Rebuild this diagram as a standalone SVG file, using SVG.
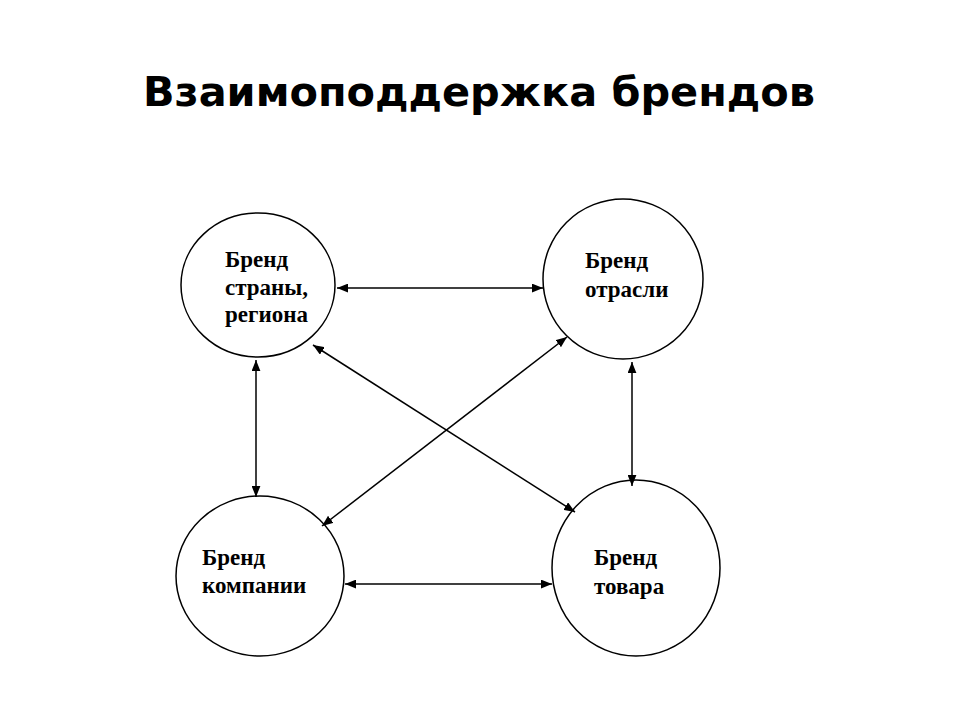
<svg xmlns="http://www.w3.org/2000/svg" width="960" height="720" viewBox="0 0 960 720">
<style>
.node{fill:#fff;stroke:#000;stroke-width:1.5}
.lbl{font-family:"Liberation Serif","Times New Roman",serif;font-weight:bold;font-size:23px;fill:#000}
.title{font-family:"DejaVu Sans",Verdana,sans-serif;font-weight:bold;font-size:40px;fill:#000}
.edge{stroke:#000;stroke-width:1.5;fill:none;marker-start:url(#ah);marker-end:url(#ah)}
</style>
<defs>
<marker id="ah" markerUnits="userSpaceOnUse" markerWidth="11" markerHeight="9" refX="10" refY="4" orient="auto-start-reverse" viewBox="0 0 10 8">
<path d="M0,0 L10,4 L0,8 z" fill="#000"/>
</marker>
</defs>
<rect width="960" height="720" fill="#fff"/>
<text class="title" x="143" y="106" textLength="672" lengthAdjust="spacingAndGlyphs">Взаимоподдержка брендов</text>
<g id="n-country">
<ellipse class="node" cx="258" cy="285" rx="77" ry="72"/>
<text class="lbl" x="225" y="267">Бренд</text>
<text class="lbl" x="225" y="295">страны,</text>
<text class="lbl" x="225" y="322">региона</text>
</g>
<g id="n-industry">
<ellipse class="node" cx="623" cy="279" rx="80" ry="80"/>
<text class="lbl" x="585" y="268">Бренд</text>
<text class="lbl" x="585" y="297">отрасли</text>
</g>
<g id="n-company">
<ellipse class="node" cx="260" cy="576" rx="84" ry="80"/>
<text class="lbl" x="202" y="565">Бренд</text>
<text class="lbl" x="202" y="593">компании</text>
</g>
<g id="n-product">
<ellipse class="node" cx="636" cy="568" rx="84" ry="88"/>
<text class="lbl" x="594" y="565">Бренд</text>
<text class="lbl" x="594" y="594">товара</text>
</g>
<g id="connectors">
<line class="edge" x1="337" y1="288" x2="543" y2="288"/>
<line class="edge" x1="345" y1="584" x2="552" y2="584"/>
<line class="edge" x1="256" y1="360" x2="256" y2="497"/>
<line class="edge" x1="632" y1="362" x2="632" y2="486"/>
<line class="edge" x1="313" y1="345" x2="575" y2="512"/>
<line class="edge" x1="567" y1="337" x2="322" y2="526"/>
</g>
</svg>
